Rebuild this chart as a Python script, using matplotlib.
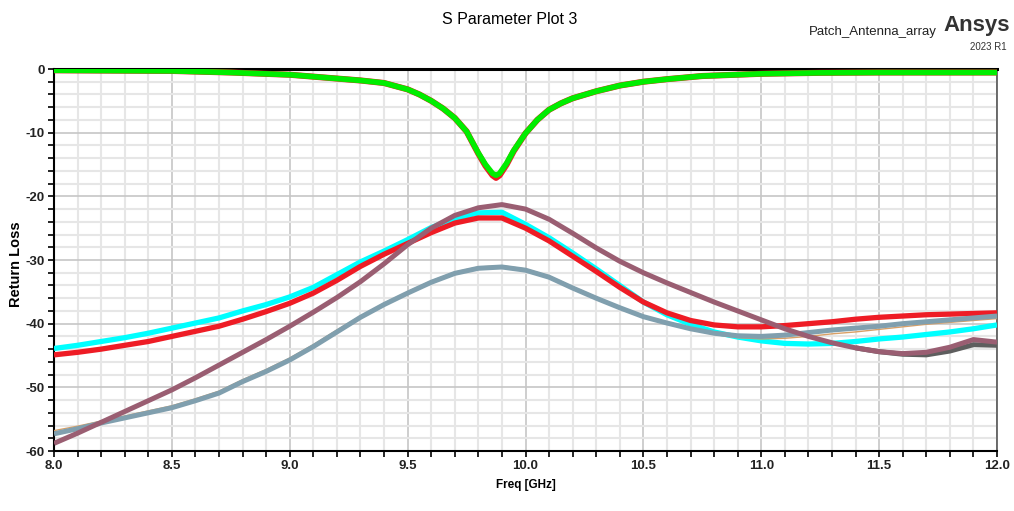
import matplotlib
matplotlib.use("Agg")
from matplotlib import pyplot as plt, rc
from matplotlib import font_manager
from matplotlib.ticker import MultipleLocator, FormatStrFormatter

# frequency grid shared by the broad curves (GHz)
freq = [8.0, 8.1, 8.2, 8.3, 8.4, 8.5, 8.6, 8.7, 8.8, 8.9,
        9.0, 9.1, 9.2, 9.3, 9.4, 9.5, 9.6, 9.7, 9.8, 9.9,
        10.0, 10.1, 10.2, 10.3, 10.4, 10.5, 10.6, 10.7, 10.8, 10.9,
        11.0, 11.1, 11.2, 11.3, 11.4, 11.5, 11.6, 11.7, 11.8, 11.9, 12.0]

cyan_db = [-43.9, -43.4, -42.8, -42.2, -41.5, -40.7, -39.9, -39.1, -38.0, -37.0,
           -35.8, -34.3, -32.3, -30.3, -28.6, -26.8, -24.9, -23.5, -22.6, -22.5,
           -24.4, -26.5, -28.9, -31.4, -34.0, -36.6, -38.6, -40.1, -41.3, -42.1,
           -42.7, -43.1, -43.2, -43.1, -42.8, -42.4, -42.1, -41.7, -41.3, -40.8, -40.2]

red_db = [-44.9, -44.5, -44.0, -43.4, -42.8, -42.0, -41.2, -40.4, -39.3, -38.1,
          -36.8, -35.2, -33.2, -31.0, -29.1, -27.4, -25.7, -24.2, -23.4, -23.4,
          -25.0, -27.0, -29.4, -31.8, -34.3, -36.6, -38.3, -39.5, -40.2, -40.5,
          -40.5, -40.3, -40.0, -39.7, -39.3, -39.0, -38.8, -38.6, -38.5, -38.4, -38.3]

mauve_db = [-58.8, -57.2, -55.5, -53.8, -52.1, -50.4, -48.5, -46.5, -44.5, -42.5,
            -40.4, -38.2, -35.9, -33.4, -30.6, -27.6, -25.0, -23.0, -21.8, -21.3,
            -22.0, -23.6, -25.8, -28.1, -30.2, -32.0, -33.6, -35.1, -36.6, -38.0,
            -39.4, -40.8, -42.0, -43.0, -43.8, -44.4, -44.7, -44.5, -43.7, -42.5, -42.9]

grayblue_db = [-57.3, -56.5, -55.6, -54.8, -54.0, -53.2, -52.1, -50.9, -49.1, -47.5,
               -45.7, -43.6, -41.3, -39.0, -37.0, -35.2, -33.5, -32.1, -31.3, -31.1,
               -31.6, -32.7, -34.4, -36.0, -37.5, -38.9, -39.9, -40.8, -41.5, -41.9,
               -42.0, -41.8, -41.4, -41.0, -40.7, -40.4, -40.0, -39.7, -39.4, -39.1, -38.8]

orange_db = [-56.8, -56.1, -55.3, -54.5, -53.7, -52.9, -51.8, -50.6, -48.8, -47.2,
             -45.4, -43.3, -41.0, -38.8, -36.8, -35.0, -33.3, -31.9, -31.1, -30.9,
             -31.4, -32.5, -34.2, -35.8, -37.4, -38.8, -39.9, -40.9, -41.7, -42.2,
             -42.4, -42.3, -42.0, -41.6, -41.3, -40.9, -40.5, -40.1, -39.8, -39.5, -39.2]

# dark grey trace that splits off from the mauve one near the end
dark_freq = [11.4, 11.5, 11.6, 11.7, 11.8, 11.9, 12.0]
dark_db = [-43.8, -44.4, -44.8, -44.9, -44.3, -43.3, -43.4]

# reflection trace with the narrow dip
dip_freq = [8.0, 8.25, 8.5, 8.75, 9.0, 9.1, 9.2, 9.3, 9.4, 9.5, 9.55, 9.6, 9.65,
            9.7, 9.75, 9.8, 9.83, 9.86, 9.875, 9.89, 9.92, 9.95, 10.0, 10.05,
            10.1, 10.15, 10.2, 10.3, 10.4, 10.5, 10.6, 10.75, 11.0, 11.25, 11.5,
            11.75, 12.0]
green_db = [-0.2, -0.25, -0.3, -0.55, -0.9, -1.2, -1.5, -1.8, -2.2, -3.2, -4.0,
            -5.0, -6.2, -7.7, -9.8, -13.2, -15.0, -16.4, -16.7, -16.4, -14.8,
            -12.8, -10.1, -8.0, -6.4, -5.4, -4.6, -3.5, -2.6, -2.0, -1.6, -1.1,
            -0.75, -0.6, -0.55, -0.55, -0.55]
red_dip_db = [-0.2, -0.25, -0.3, -0.55, -0.9, -1.2, -1.5, -1.8, -2.2, -3.2, -4.0,
              -5.0, -6.2, -7.7, -9.8, -13.3, -15.2, -16.7, -17.1, -16.7, -15.0,
              -12.9, -10.1, -8.0, -6.4, -5.4, -4.6, -3.5, -2.6, -2.0, -1.6, -1.1,
              -0.75, -0.6, -0.55, -0.55, -0.55]

installed = {f.name for f in font_manager.fontManager.ttflist}
narrow = 'Liberation Sans Narrow' if 'Liberation Sans Narrow' in installed else 'Liberation Sans'
rc('font', family=['Liberation Sans', 'DejaVu Sans'])
rc('axes', unicode_minus=False)

fig = plt.figure(figsize=(10.14, 5.11), dpi=100)
ax = fig.add_axes([54 / 1014, 1 - 451 / 511, (997 - 54) / 1014, (451 - 69) / 511])

ax.plot(freq, cyan_db, color='#00ffff', lw=3.8, solid_capstyle='butt', zorder=3)
ax.plot(freq, red_db, color='#ee1c25', lw=3.8, solid_capstyle='butt', zorder=4)
ax.plot(freq, orange_db, color='#d9a066', lw=1.0, solid_capstyle='butt', zorder=5)
ax.plot(freq, grayblue_db, color='#809fae', lw=3.6, solid_capstyle='butt', zorder=6)
ax.plot(dark_freq, dark_db, color='#5e5e5e', lw=3.6, solid_capstyle='butt', zorder=7)
ax.plot(freq, mauve_db, color='#9a5e72', lw=3.6, solid_capstyle='butt', zorder=8)
ax.plot(dip_freq, red_dip_db, color='#ee1c25', lw=4.4, solid_capstyle='butt', zorder=9)
ax.plot(dip_freq, green_db, color='#00ee00', lw=4.0, solid_capstyle='butt', zorder=10)

ax.set_xlim(8.0, 12.0)
ax.set_ylim(-60, 0)
ax.xaxis.set_major_locator(MultipleLocator(0.5))
ax.xaxis.set_minor_locator(MultipleLocator(0.1))
ax.yaxis.set_major_locator(MultipleLocator(10))
ax.yaxis.set_minor_locator(MultipleLocator(2))
ax.xaxis.set_major_formatter(FormatStrFormatter('%.1f'))

ax.grid(which='minor', color='#e6e6e6', lw=1.5, zorder=0)
ax.grid(which='major', color='#c6c6c6', lw=1.2, zorder=1)
ax.set_axisbelow(True)

ax.tick_params(which='both', direction='out', length=4.5, width=1.2, color='black')
ax.tick_params(which='major', labelsize=9.5, pad=2)
for lab in ax.get_xticklabels() + ax.get_yticklabels():
    lab.set_family(narrow)
    lab.set_weight('bold')
    lab.set_color('#222222')

for side in ('left', 'bottom'):
    ax.spines[side].set_linewidth(1.5)
ax.spines['top'].set_linewidth(2.2)
ax.spines['right'].set_color('#555555')
ax.spines['right'].set_linewidth(1.2)

ax.set_ylabel('Return Loss', fontsize=10.5, fontweight='bold')
ax.yaxis.set_label_coords((23 - 54) / 943, 0.49)
ax.set_xlabel('Freq [GHz]', fontsize=8.5, fontweight='bold', labelpad=5)
ax.xaxis.label.set_family(narrow)
ax.yaxis.label.set_family(narrow)

fig.text(510 / 1014, 1 - 20 / 511, 'S Parameter Plot 3', ha='center', va='center', fontsize=11.5)
fig.text(937 / 1014, 1 - 32 / 511, 'Patch_Antenna_array', ha='right', va='center', fontsize=9.5,
         family=narrow, color='#222222')
fig.text(1010 / 1014, 1 - 25 / 511, 'Ansys', ha='right', va='center', fontsize=16,
         fontweight='bold', family=narrow, color='#333333')
fig.text(1007 / 1014, 1 - 47 / 511, '2023 R1', ha='right', va='center', fontsize=7,
         family=narrow, color='#333333')

fig.savefig('out.png', dpi=100)
